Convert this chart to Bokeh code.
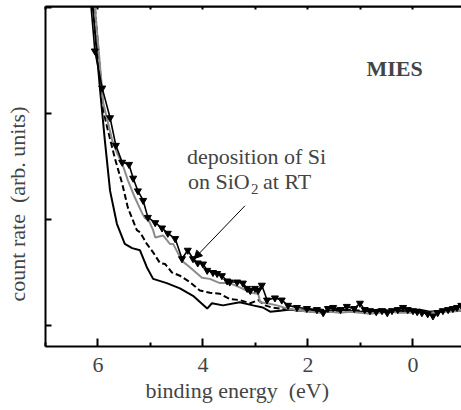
from bokeh.plotting import figure
from bokeh.models import Range1d, FixedTicker, LinearAxis, Label, Arrow, NormalHead, Span, Title
from bokeh.embed import file_html
from bokeh.resources import INLINE

# binding energy (eV) and count rate (arb. units) for the four spectra
E_clean = [6.20, 6.10, 5.96, 5.87, 5.77, 5.64, 5.49, 5.35, 5.20, 5.07, 4.95, 4.69, 4.44, 4.19,
           3.92, 3.83, 3.62, 3.30, 3.05, 2.86, 2.72, 2.53, 2.34, 2.15, 1.96, 1.77, 1.58, 1.39,
           1.20, 1.01, 0.82, 0.63, 0.44, 0.25, 0.06, -0.13, -0.32, -0.51, -0.70, -0.92]
I_clean = [3.60, 3.01, 2.22, 1.75, 1.27, 0.96, 0.77, 0.73, 0.71, 0.55, 0.44, 0.40, 0.35, 0.28,
           0.16, 0.21, 0.19, 0.22, 0.19, 0.17, 0.13, 0.14, 0.15, 0.14, 0.15, 0.13, 0.14, 0.15,
           0.14, 0.13, 0.14, 0.15, 0.14, 0.13, 0.14, 0.15, 0.13, 0.14, 0.15, 0.14]

E_dose1 = [6.20, 6.06, 5.90, 5.81, 5.68, 5.54, 5.43, 5.26, 5.20, 5.07, 4.95, 4.82, 4.72, 4.59,
           4.44, 4.25, 4.06, 3.87, 3.68, 3.49, 3.30, 3.10, 2.95, 2.82, 2.69, 2.53, 2.34, 2.15,
           1.96, 1.77, 1.58, 1.39, 1.20, 1.01, 0.82, 0.63, 0.44, 0.25, 0.06, -0.13, -0.32,
           -0.51, -0.70, -0.92]
I_dose1 = [3.50, 3.01, 2.03, 1.84, 1.58, 1.34, 1.11, 0.90, 0.88, 0.77, 0.69, 0.59, 0.58, 0.50,
           0.47, 0.41, 0.33, 0.31, 0.30, 0.25, 0.24, 0.21, 0.24, 0.19, 0.17, 0.16, 0.15, 0.14,
           0.13, 0.15, 0.14, 0.13, 0.15, 0.14, 0.13, 0.14, 0.15, 0.14, 0.13, 0.14, 0.12,
           0.14, 0.15, 0.16]

E_dose2 = [6.20, 6.06, 5.90, 5.73, 5.64, 5.54, 5.43, 5.30, 5.16, 5.10, 5.05, 4.95, 4.91, 4.76,
           4.63, 4.57, 4.40, 4.25, 4.02, 3.87, 3.68, 3.49, 3.30, 3.10, 2.95, 2.91, 2.78, 2.59,
           2.40, 2.15, 1.96, 1.77, 1.58, 1.39, 1.20, 1.01, 0.82, 0.63, 0.44, 0.25, 0.06,
           -0.13, -0.32, -0.51, -0.70, -0.92]
I_dose2 = [3.40, 3.01, 2.10, 1.75, 1.63, 1.53, 1.37, 1.21, 1.06, 1.01, 1.01, 0.90, 0.83, 0.85,
           0.77, 0.77, 0.61, 0.55, 0.45, 0.44, 0.40, 0.40, 0.36, 0.31, 0.30, 0.22, 0.21, 0.19,
           0.16, 0.14, 0.13, 0.12, 0.13, 0.12, 0.13, 0.12, 0.11, 0.12, 0.13, 0.12, 0.12,
           0.13, 0.12, 0.13, 0.13, 0.14]

E_dose3 = [6.20, 6.06, 5.92, 5.77, 5.66, 5.54, 5.41, 5.33, 5.24, 5.14, 5.05, 4.91, 4.78, 4.67,
           4.53, 4.40, 4.29, 4.19, 4.10, 4.00, 3.92, 3.81, 3.73, 3.64, 3.54, 3.49, 3.35, 3.24,
           3.16, 3.10, 3.01, 2.95, 2.88, 2.78, 2.63, 2.50, 2.38, 2.21, 2.02, 1.83, 1.71, 1.62,
           1.52, 1.38, 1.26, 1.12, 1.01, 0.92, 0.82, 0.70, 0.59, 0.49, 0.40, 0.29, 0.19, 0.10,
           0.00, -0.08, -0.17, -0.28, -0.38, -0.47, -0.57, -0.67, -0.76, -0.84, -0.92]
I_dose3 = [3.40, 2.59, 2.24, 1.96, 1.70, 1.54, 1.52, 1.39, 1.27, 1.18, 1.02, 0.97, 0.92, 0.87,
           0.82, 0.63, 0.71, 0.63, 0.59, 0.58, 0.52, 0.50, 0.49, 0.47, 0.42, 0.41, 0.41, 0.40,
           0.35, 0.33, 0.35, 0.33, 0.38, 0.24, 0.26, 0.24, 0.19, 0.17, 0.16, 0.15, 0.12, 0.16,
           0.17, 0.15, 0.18, 0.16, 0.21, 0.15, 0.14, 0.13, 0.14, 0.12, 0.14, 0.15, 0.17, 0.15,
           0.14, 0.13, 0.12, 0.11, 0.09, 0.12, 0.14, 0.15, 0.16, 0.17, 0.19]

x_major = [6, 4, 2, 0]
x_minor = [7, 5, 3, 1, -1]
x_top = [7, 6, 5, 4, 3, 2, 1, 0, -1]
y_major = [0, 1, 2, 3]

FONT = "'Liberation Serif'"
Y_TOP = 3.01

p = figure(width=461, height=410, output_backend="svg", toolbar_location=None,
           x_range=Range1d(7.0, -0.924), y_range=Range1d(-0.198, Y_TOP),
           min_border_left=45, min_border_right=0, min_border_top=6, min_border_bottom=64)
p.outline_line_color = None
p.grid.visible = False
p.background_fill_color = "white"
p.border_fill_color = "white"

xa = p.xaxis[0]
xa.ticker = FixedTicker(ticks=x_major, minor_ticks=x_minor)
xa.major_tick_in = 8
xa.major_tick_out = 0
xa.minor_tick_in = 4
xa.minor_tick_out = 0
xa.axis_line_width = 2
xa.major_tick_line_width = 2
xa.minor_tick_line_width = 2
xa.major_label_text_font = FONT
xa.major_label_text_font_size = "22px"
xa.major_label_standoff = 11

ya = p.yaxis[0]
ya.ticker = FixedTicker(ticks=y_major, minor_ticks=[])
ya.major_tick_in = 6
ya.major_tick_out = 0
ya.axis_line_width = 2
ya.major_tick_line_width = 2
ya.major_label_overrides = {t: "" for t in y_major}
ya.major_label_text_font_size = "1px"
ya.major_label_standoff = 0
# trailing em-spaces shift the visible title down along the axis, as in the reference
ya.axis_label = "count rate \u00a0(arb. units)\u2003\u2003\u2002"
ya.axis_label_text_font = FONT
ya.axis_label_text_font_size = "22px"
ya.axis_label_text_font_style = "normal"
ya.axis_label_standoff = 16

top = LinearAxis(ticker=FixedTicker(ticks=x_top, minor_ticks=[]),
                 major_tick_in=3, major_tick_out=0, major_tick_line_width=2,
                 axis_line_width=2, major_label_text_font_size="1px",
                 major_label_overrides={t: "" for t in x_top},
                 major_label_standoff=0)
p.add_layout(top, "above")
p.add_layout(Span(location=Y_TOP, dimension="width", line_color="black", line_width=2))

p.add_layout(Title(text="binding energy \u00a0(eV)", align="left", offset=100, standoff=2,
                   text_font=FONT, text_font_size="22px", text_font_style="normal"), "below")

p.line(E_clean, I_clean, line_color="black", line_width=2)
p.line(E_dose1, I_dose1, line_color="black", line_width=2, line_dash="6 3")
p.line(E_dose2, I_dose2, line_color="#8c8c8c", line_width=2)
p.line(E_dose3, I_dose3, line_color="black", line_width=1.6)
p.scatter(E_dose3, I_dose3, marker="inverted_triangle", size=7,
          fill_color="black", line_color="black")

p.add_layout(Arrow(end=NormalHead(size=8, fill_color="black", line_color="black"),
                   x_start=3.20, y_start=1.13, x_end=4.17, y_end=0.63,
                   line_width=1, line_color="black"))

p.add_layout(Label(x=2.98, y=1.594, text="deposition of Si", text_align="center",
                   text_baseline="alphabetic", text_font=FONT, text_font_size="22px"))
p.add_layout(Label(x=4.286, y=1.358, text="on SiO", text_align="left",
                   text_baseline="alphabetic", text_font=FONT, text_font_size="22px"))
p.add_layout(Label(x=3.086, y=1.29, text="2", text_align="left",
                   text_baseline="alphabetic", text_font=FONT, text_font_size="15px"))
p.add_layout(Label(x=2.857, y=1.358, text="at RT", text_align="left",
                   text_baseline="alphabetic", text_font=FONT, text_font_size="22px"))
p.add_layout(Label(x=0.352, y=2.425, text="MIES", text_align="center",
                   text_baseline="alphabetic", text_font=FONT, text_font_size="22px",
                   text_font_style="bold"))

open("out.html", "w").write(file_html(p, INLINE))
